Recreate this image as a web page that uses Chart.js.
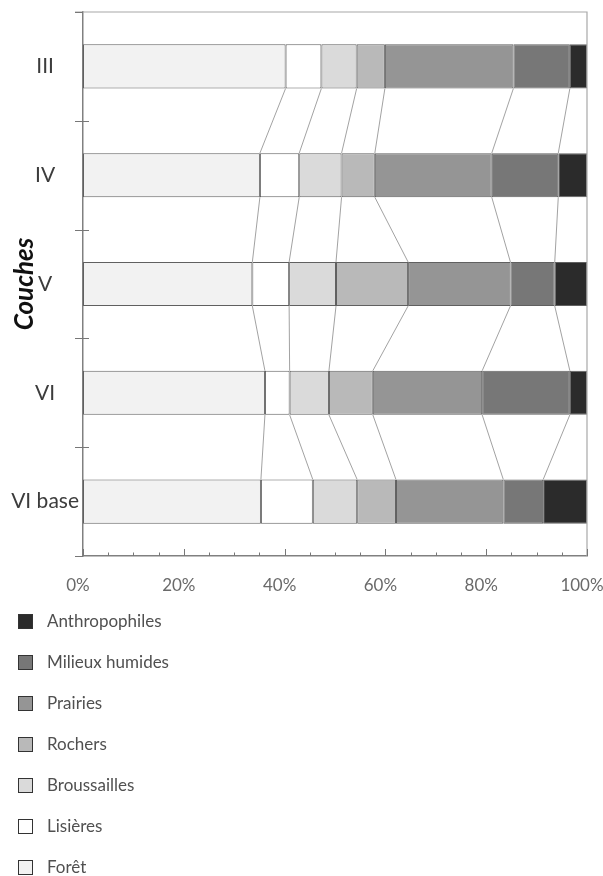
<!DOCTYPE html>
<html><head><meta charset="utf-8">
<script src="https://cdn.jsdelivr.net/npm/chart.js@4.4.1/dist/chart.umd.min.js"></script>
<style>
html,body{margin:0;padding:0;background:#fff;width:603px;height:876px;overflow:hidden;font-family:Lato,sans-serif}
#wrap{position:absolute;left:0;top:0;width:603px;height:600px}
#legend{position:absolute;left:0;top:0;width:603px;height:876px;pointer-events:none}
.row{position:absolute;left:0;height:20px;width:300px}
.box{position:absolute;left:18px;top:3px;width:15px;height:15px;box-sizing:border-box;border:1px solid #333}
.lab{position:absolute;left:47px;top:0;line-height:20px;font-size:17px;color:#505050;white-space:nowrap}
</style></head>
<body>
<div id="wrap"><canvas id="c" width="603" height="600"></canvas></div>
<div id="legend"></div>
<script>
const categories = ['III', 'IV', 'V', 'VI', 'VI base'];
const foret          = [40.2, 35.1, 33.6, 36.1, 35.3];
const lisieres       = [7.1, 7.8, 7.3, 4.9, 10.3];
const broussailles   = [7.0, 8.4, 9.3, 7.8, 8.8];
const rochers        = [5.6, 6.6, 14.3, 8.7, 7.7];
const prairies       = [25.5, 23.2, 20.3, 21.7, 21.3];
const milieuxHumides = [11.2, 13.2, 8.8, 17.4, 7.9];
const anthropophiles = [3.4, 5.7, 6.4, 3.4, 8.7];
const seriesNames = ['Forêt', 'Lisières', 'Broussailles', 'Rochers', 'Prairies', 'Milieux humides', 'Anthropophiles'];
const seriesValues = [foret, lisieres, broussailles, rochers, prairies, milieuxHumides, anthropophiles];
const seriesColors = ['#f2f2f2', '#ffffff', '#dadada', '#b9b9b9', '#959595', '#777777', '#2b2b2b'];
const xMin = 0, xMax = 100, xMajorStep = 20, xMinorStep = 5;
const axisTitle = 'Couches';

const decor = {
  id: 'decor',
  afterDraw(chart) {
    const {ctx, chartArea: a, scales: {x, y}} = chart;
    ctx.save();
    // connectors between bars
    ctx.strokeStyle = '#8a8a8a';
    ctx.lineWidth = 0.8;
    const metas = chart.data.datasets.map((d, i) => chart.getDatasetMeta(i));
    for (let c = 0; c < categories.length - 1; c++) {
      for (let k = 0; k < metas.length - 1; k++) {
        const e1 = metas[k].data[c], e2 = metas[k].data[c + 1];
        ctx.beginPath();
        ctx.moveTo(e1.x, e1.y + e1.height / 2);
        ctx.lineTo(e2.x, e2.y - e2.height / 2);
        ctx.stroke();
      }
    }
    // frame top and right
    ctx.strokeStyle = '#a8a8a8';
    ctx.lineWidth = 1.2;
    ctx.beginPath();
    ctx.moveTo(a.left - 8, a.top);
    ctx.lineTo(a.right, a.top);
    ctx.lineTo(a.right, a.bottom);
    ctx.stroke();
    // x ticks (inside)
    ctx.strokeStyle = '#777';
    ctx.lineWidth = 1;
    for (let v = xMin; v <= xMax; v += xMinorStep) {
      const px = Math.round(x.getPixelForValue(v)) + 0.5;
      const len = (v % xMajorStep === 0) ? 7 : 3.5;
      ctx.beginPath();
      ctx.moveTo(px, a.bottom);
      ctx.lineTo(px, a.bottom - len);
      ctx.stroke();
    }
    // y ticks at category boundaries
    const bounds = [a.top];
    for (let i = 0; i < categories.length - 1; i++) {
      bounds.push((y.getPixelForValue(i) + y.getPixelForValue(i + 1)) / 2);
    }
    bounds.push(a.bottom);
    bounds.forEach((b, i) => {
      const py = Math.round(b) + 0.5;
      ctx.beginPath();
      ctx.moveTo(a.left - 8, py);
      ctx.lineTo(i === 0 || i === bounds.length - 1 ? a.left : a.left + 6, py);
      ctx.stroke();
    });
    ctx.restore();
  }
};

new Chart(document.getElementById('c'), {
  type: 'bar',
  data: {
    labels: categories,
    datasets: seriesNames.map((n, i) => ({
      label: n,
      data: seriesValues[i],
      backgroundColor: seriesColors[i],
      borderColor: '#606060',
      borderWidth: 1,
      borderSkipped: false,
      categoryPercentage: 1,
      barPercentage: 0.405
    }))
  },
  options: {
    responsive: false,
    animation: false,
    indexAxis: 'y',
    layout: {padding: {left: 0, right: 16, top: 12, bottom: 0}},
    plugins: {legend: {display: false}, tooltip: {enabled: false}},
    scales: {
      x: {
        type: 'linear', stacked: true, min: xMin, max: xMax, position: 'bottom',
        grid: {display: false, drawTicks: false},
        border: {display: true, color: '#808080', width: 1.5},
        ticks: {stepSize: xMajorStep, callback: v => v + '%', font: {family: 'Lato', size: 17}, color: '#6a6a6a', padding: 19, labelOffset: -5, maxRotation: 0},
        afterFit(s) { s.height = 44; s.paddingLeft = 0; s.paddingRight = 0; }
      },
      y: {
        type: 'category', stacked: true,
        grid: {display: false, drawTicks: false},
        border: {display: true, color: '#808080', width: 1.5},
        ticks: {font: {family: 'Lato', size: 21}, color: '#3c3c3c', crossAlign: 'center', padding: 4},
        title: {display: true, text: axisTitle, font: {family: 'Lato', size: 26, style: 'italic', weight: 'bold'}, color: '#111', padding: {top: 9, bottom: 0}},
        afterFit(s) { s.width = 83; s.paddingTop = 0; s.paddingBottom = 0; }
      }
    }
  },
  plugins: [decor]
});

const leg = document.getElementById('legend');
for (let j = seriesNames.length - 1, r = 0; j >= 0; j--, r++) {
  const row = document.createElement('div');
  row.className = 'row';
  row.style.top = (611 + 41 * r) + 'px';
  const box = document.createElement('div');
  box.className = 'box';
  box.style.background = seriesColors[j];
  const lab = document.createElement('div');
  lab.className = 'lab';
  lab.textContent = seriesNames[j];
  row.appendChild(box); row.appendChild(lab);
  leg.appendChild(row);
}
</script>
</body></html>
